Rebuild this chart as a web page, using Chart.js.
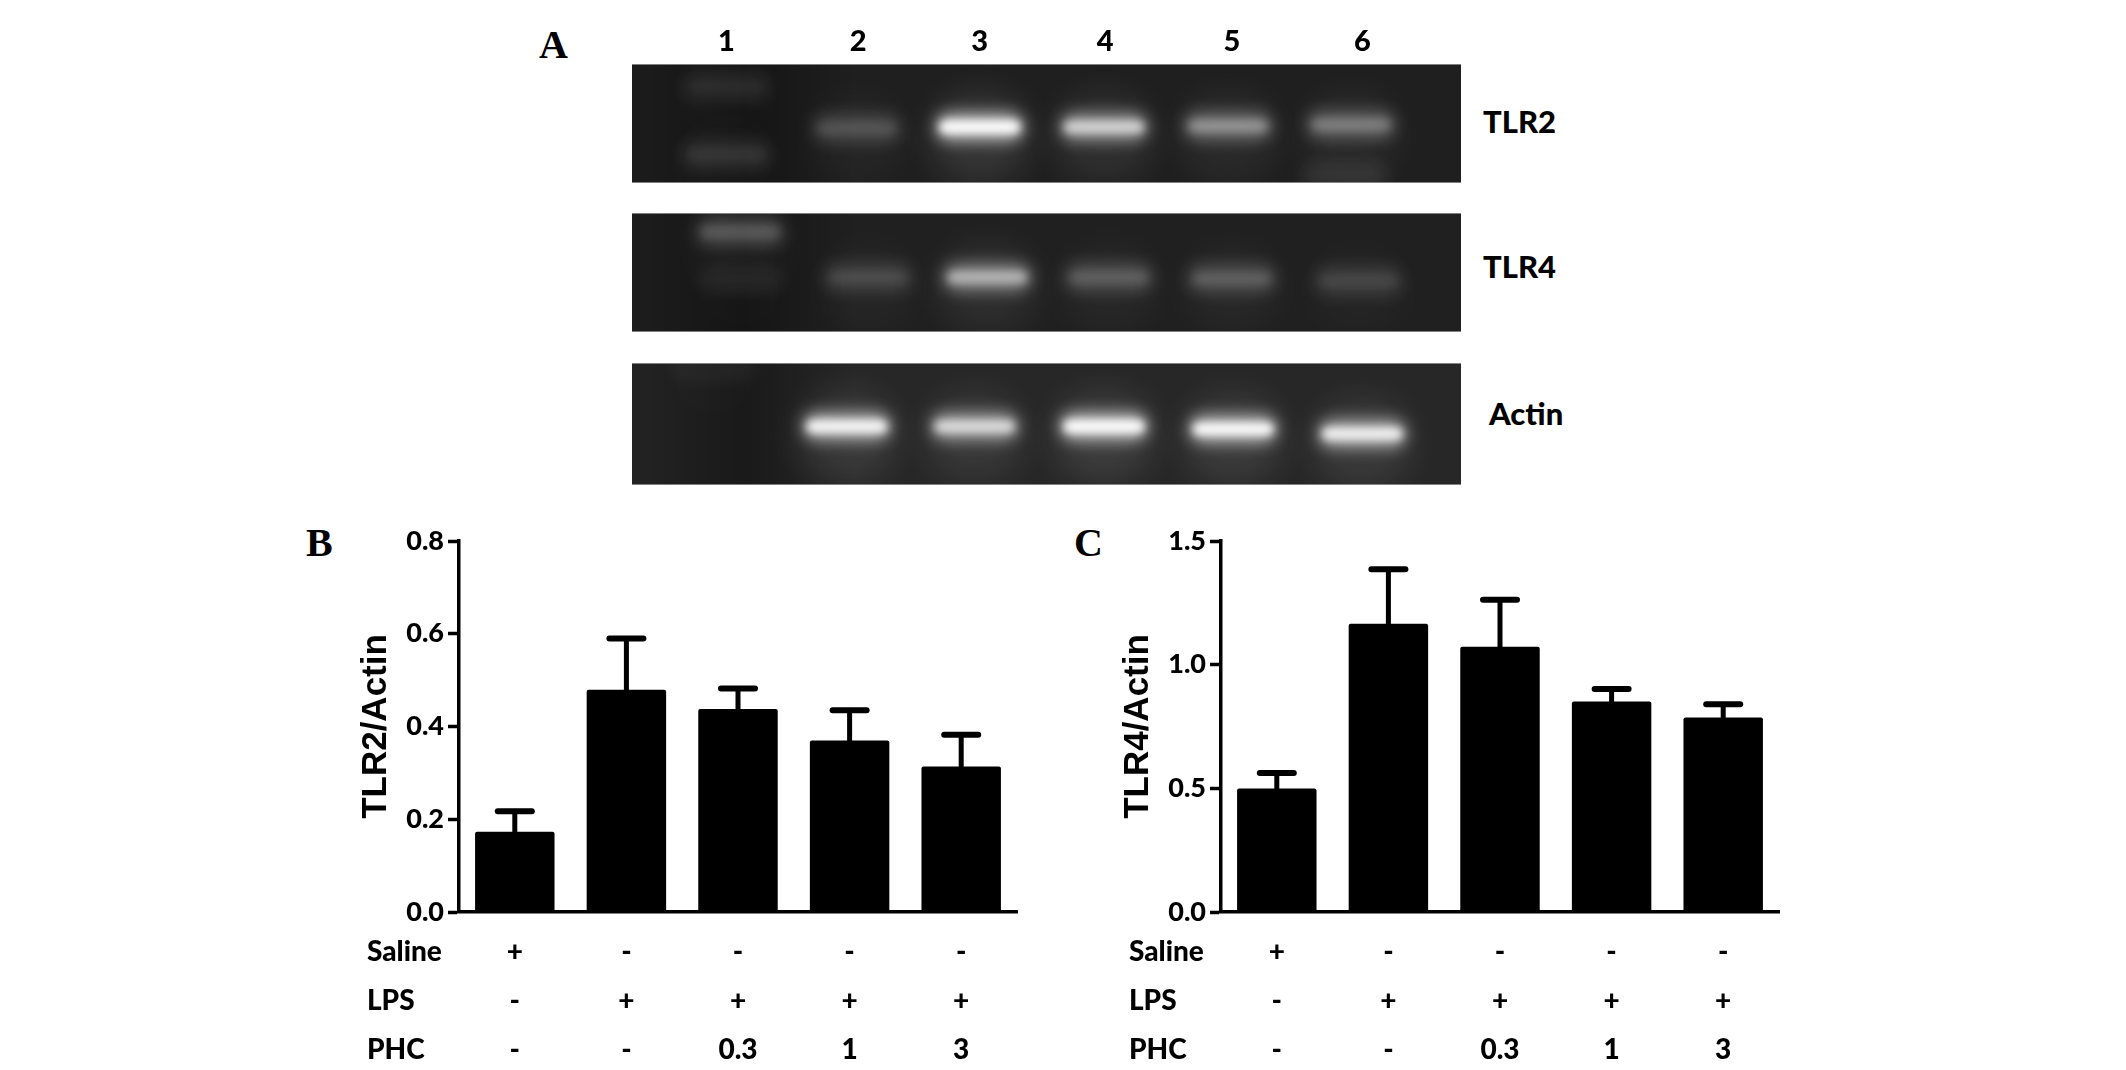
<!DOCTYPE html>
<html>
<head>
<meta charset="utf-8">
<title>TLR2 and TLR4 expression</title>
<script src="https://cdn.jsdelivr.net/npm/chart.js@4"></script>
<style>
    html, body { margin: 0; padding: 0; background: #fff; overflow: hidden; }
    canvas { position: absolute; }
    .label { position: absolute; color: #000; white-space: nowrap; transform: translateY(-50%); line-height: 1; }
    .panel { font: bold 40px "Liberation Serif", serif; }
    .gene { font: 900 31px Lato, sans-serif; }
</style>
</head>
<body>
<div class="label panel" style="left:539px;top:44px">A</div>
<div class="label panel" style="left:306px;top:542px">B</div>
<div class="label panel" style="left:1074px;top:542px">C</div>
<div class="label gene" style="left:1483px;top:121px">TLR2</div>
<div class="label gene" style="left:1483px;top:266px">TLR4</div>
<div class="label gene" style="left:1489px;top:413px">Actin</div>

<canvas id="gelTlr2" style="left:632px;top:10px" width="829" height="173"></canvas>
<canvas id="gelTlr4" style="left:632px;top:213px" width="829" height="119"></canvas>
<canvas id="gelActin" style="left:632px;top:363px" width="829" height="122"></canvas>
<canvas id="chartB" style="left:340px;top:520px" width="700" height="550"></canvas>
<canvas id="chartC" style="left:1102px;top:520px" width="700" height="550"></canvas>

<script>
// Bar chart data
const rowNames = ['Saline', 'LPS', 'PHC'];
const salineRow = ['+', '-', '-', '-', '-'];
const lpsRow = ['-', '+', '+', '+', '+'];
const phcRow = ['-', '-', '0.3', '1', '3'];

const tlr2Means = [0.173, 0.479, 0.438, 0.37, 0.314];
const tlr2ErrTop = [0.217, 0.59, 0.482, 0.435, 0.382];
const tlr2Ticks = [0, 0.2, 0.4, 0.6, 0.8];

const tlr4Means = [0.499, 1.165, 1.072, 0.851, 0.786];
const tlr4ErrTop = [0.562, 1.386, 1.262, 0.902, 0.84];
const tlr4Ticks = [0, 0.5, 1.0, 1.5];

// Gel bands: lane position, migration down the gel (0-1), brightness (0-1)
const laneTicks = [1, 2.05, 3.02, 4.02, 5.03, 6.07];
const laneLabels = ['1', '2', '3', '4', '5', '6'];

const tlr2Lanes = [1, 1, 2.04, 3.02, 4.01, 5, 5.98, 5.93];
const tlr2Migration = [0.19, 0.76, 0.54, 0.53, 0.53, 0.52, 0.51, 0.94];
const tlr2Bright = [0.12, 0.16, 0.26, 1, 0.75, 0.5, 0.42, 0.1];

const tlr4Lanes = [1.11, 1.11, 2.13, 3.08, 4.05, 5.03, 6.04];
const tlr4Migration = [0.16, 0.56, 0.54, 0.54, 0.54, 0.55, 0.57];
const tlr4Bright = [0.3, 0.08, 0.22, 0.62, 0.3, 0.3, 0.2];

const actinLanes = [0.9, 1.96, 2.98, 4.01, 5.04, 6.07];
const actinMigration = [0.04, 0.52, 0.52, 0.52, 0.54, 0.58];
const actinBright = [0.06, 0.92, 0.78, 1, 0.94, 0.88];

const labelFont = 'Lato, sans-serif';

// Draws the error bar stems and caps above each bar
const errorBars = {
    id: 'errorBars',
    afterDatasetsDraw(chart, args, opts) {
        const ctx = chart.ctx;
        const y = chart.scales.y;
        ctx.save();
        ctx.strokeStyle = '#000';
        ctx.lineCap = 'round';
        chart.getDatasetMeta(0).data.forEach((bar, i) => {
            const top = y.getPixelForValue(opts.tops[i]);
            ctx.lineWidth = 5;
            ctx.beginPath();
            ctx.moveTo(bar.x, bar.y);
            ctx.lineTo(bar.x, top);
            ctx.stroke();
            ctx.lineWidth = 6;
            ctx.beginPath();
            ctx.moveTo(bar.x - 17, top);
            ctx.lineTo(bar.x + 17, top);
            ctx.stroke();
        });
        ctx.restore();
    }
};

// Saline / LPS / PHC headings to the left of the tick rows
const rowHeaders = {
    id: 'rowHeaders',
    afterDraw(chart) {
        const ctx = chart.ctx;
        const x = chart.scales.x;
        ctx.save();
        ctx.fillStyle = '#000';
        ctx.font = '900 28px ' + labelFont;
        ctx.textBaseline = 'middle';
        rowNames.forEach((name, i) => {
            ctx.fillText(name, 27, x.top + 15 + 24.5 + i * 49);
        });
        ctx.restore();
    }
};

function makeBarChart(id, means, tops, ticks, title) {
    return new Chart(document.getElementById(id), {
        type: 'bar',
        data: {
            labels: means.map((v, i) => [salineRow[i], lpsRow[i], phcRow[i]]),
            datasets: [{
                data: means,
                backgroundColor: '#000',
                borderRadius: 2,
                barPercentage: 0.712,
                categoryPercentage: 1
            }]
        },
        plugins: [errorBars, rowHeaders],
        options: {
            responsive: false,
            animation: false,
            layout: { padding: { top: 21, right: 23 } },
            plugins: {
                legend: { display: false },
                tooltip: { enabled: false },
                errorBars: { tops: tops }
            },
            scales: {
                x: {
                    afterFit(scale) { scale.height = 158; },
                    border: { color: '#000', width: 3.5 },
                    grid: { display: false, drawTicks: false },
                    ticks: {
                        autoSkip: false,
                        maxRotation: 0,
                        padding: 15,
                        color: '#000',
                        font: { family: labelFont, weight: '900', size: 28, lineHeight: 49 / 28 }
                    }
                },
                y: {
                    min: ticks[0],
                    max: ticks[ticks.length - 1],
                    afterFit(scale) { scale.width = 119; },
                    afterBuildTicks(scale) { scale.ticks = ticks.map(v => ({ value: v })); },
                    border: { color: '#000', width: 3.5 },
                    grid: { drawOnChartArea: false, drawTicks: true, tickLength: 11, tickWidth: 3.5, tickColor: '#000' },
                    ticks: {
                        padding: 4,
                        color: '#000',
                        font: { family: labelFont, weight: '900', size: 27 },
                        callback: v => v.toFixed(1)
                    },
                    title: {
                        display: true,
                        text: title,
                        color: '#000',
                        padding: { top: 15, bottom: 0 },
                        font: { family: '"Liberation Sans", Arial, sans-serif', weight: 'bold', size: 35 }
                    }
                }
            }
        }
    });
}

// Paints the gel background and the blurred bands at each point's scale position
const gelBands = {
    id: 'gelBands',
    beforeDatasetsDraw(chart, args, opts) {
        const ctx = chart.ctx;
        const area = chart.chartArea;
        const laneOne = chart.scales.x.getPixelForValue(1);
        ctx.save();
        ctx.beginPath();
        ctx.rect(area.left, area.top, area.width, area.height);
        ctx.clip();
        ctx.fillStyle = opts.background;
        ctx.fillRect(area.left, area.top, area.width, area.height);

        // darker patch around the ladder lane
        const dark = ctx.createLinearGradient(area.left, 0, laneOne + 130, 0);
        dark.addColorStop(0, 'rgba(0,0,0,0.1)');
        dark.addColorStop(0.5, 'rgba(0,0,0,0.35)');
        dark.addColorStop(1, 'rgba(0,0,0,0)');
        ctx.fillStyle = dark;
        ctx.fillRect(area.left, area.top, laneOne + 130 - area.left, area.height);

        chart.getDatasetMeta(0).data.forEach((point, i) => {
            const b = opts.bright[i];
            // lane smear, glow, then hot core
            band(ctx, point.x, point.y + 10, 100, 90, 16, 'rgba(255,255,255,' + (b * 0.1) + ')');
            band(ctx, point.x, point.y, 88, 28, 8, 'rgba(255,255,255,' + (b * 0.65) + ')');
            band(ctx, point.x, point.y, 80, 12, 4.5, 'rgba(255,255,255,' + (b * b * 1.1) + ')');
        });

        ctx.fillStyle = 'rgba(170,170,170,0.7)';
        ctx.fillRect(area.left, area.top, area.width, 1);
        ctx.fillRect(area.left, area.bottom - 1, area.width, 1);
        ctx.restore();
    }
};

function band(ctx, x, y, w, h, blur, color) {
    ctx.filter = 'blur(' + blur + 'px)';
    ctx.fillStyle = color;
    ctx.beginPath();
    ctx.roundRect(x - w / 2, y - h / 2, w, h, h / 2);
    ctx.fill();
    ctx.filter = 'none';
}

function makeGel(id, lanes, migration, bright, background, showLanes) {
    return new Chart(document.getElementById(id), {
        type: 'scatter',
        data: {
            datasets: [{
                data: lanes.map((lane, i) => ({ x: lane, y: migration[i] })),
                pointRadius: 0
            }]
        },
        plugins: [gelBands],
        options: {
            responsive: false,
            animation: false,
            layout: { padding: 0 },
            plugins: {
                legend: { display: false },
                tooltip: { enabled: false },
                gelBands: { bright: bright, background: background }
            },
            scales: {
                x: {
                    type: 'linear',
                    position: 'top',
                    display: showLanes,
                    min: 0.247,
                    max: 6.857,
                    afterFit(scale) { scale.height = showLanes ? 54 : 0; },
                    afterBuildTicks(scale) { scale.ticks = laneTicks.map(v => ({ value: v })); },
                    border: { display: false },
                    grid: { display: false, drawTicks: false },
                    ticks: {
                        padding: 5,
                        maxRotation: 0,
                        autoSkip: false,
                        color: '#000',
                        font: { family: labelFont, weight: '900', size: 29 },
                        callback: (v, i) => laneLabels[i]
                    }
                },
                y: { display: false, min: 0, max: 1, reverse: true }
            }
        }
    });
}

makeGel('gelTlr2', tlr2Lanes, tlr2Migration, tlr2Bright, '#1f1f1f', true);
makeGel('gelTlr4', tlr4Lanes, tlr4Migration, tlr4Bright, '#202020', false);
makeGel('gelActin', actinLanes, actinMigration, actinBright, '#272727', false);
makeBarChart('chartB', tlr2Means, tlr2ErrTop, tlr2Ticks, 'TLR2/Actin');
makeBarChart('chartC', tlr4Means, tlr4ErrTop, tlr4Ticks, 'TLR4/Actin');
</script>
</body>
</html>
